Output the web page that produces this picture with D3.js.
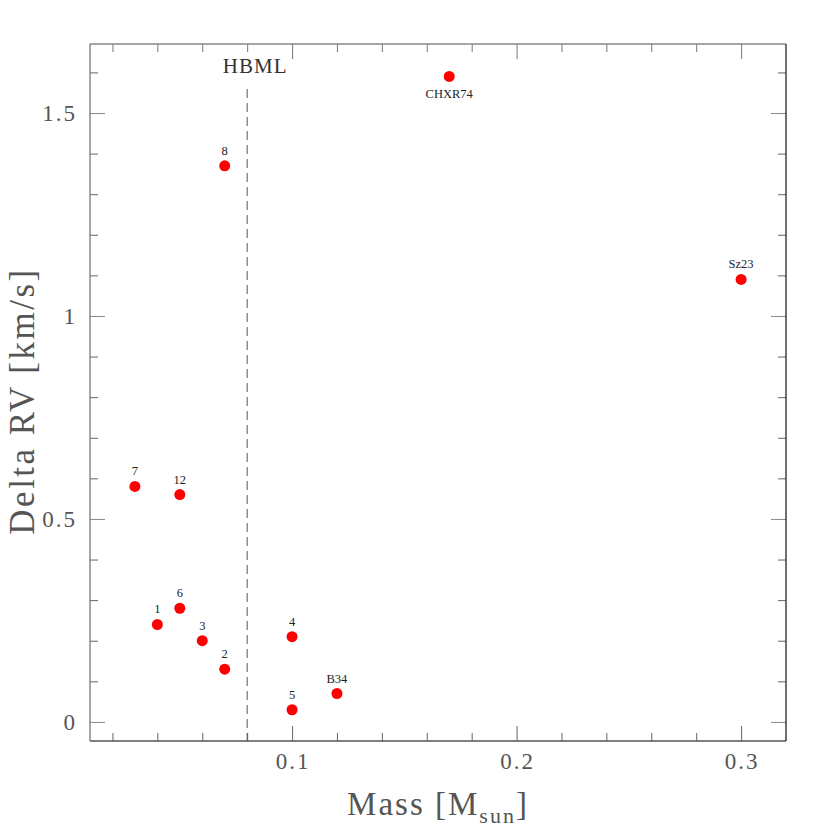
<!DOCTYPE html>
<html>
<head>
<meta charset="utf-8">
<script src="https://cdn.jsdelivr.net/npm/d3@7"></script>
<style>
  body { margin: 0; background: #fff; }
  text { font-family: "Liberation Serif", "DejaVu Serif", serif; }
</style>
</head>
<body>
<svg id="chart" width="830" height="830"></svg>
<script>
// objects, masses [Msun] and Delta RV [km/s]
var names = ["7", "12", "1", "6", "3", "2", "8", "4", "5", "B34", "CHXR74", "Sz23"];
var mass  = [0.03, 0.05, 0.04, 0.05, 0.06, 0.07, 0.07, 0.10, 0.10, 0.12, 0.17, 0.30];
var dRV   = [0.58, 0.56, 0.24, 0.28, 0.20, 0.13, 1.37, 0.21, 0.03, 0.07, 1.59, 1.09];
var labelBelow = ["CHXR74"];

var xTicks = [0.1, 0.2, 0.3];
var yTicks = [0, 0.5, 1, 1.5];
var hbml = 0.08;

var svg = d3.select("#chart");
var pLeft = 90, pRight = 786, pTop = 44, pBottom = 741;

var x = d3.scaleLinear().domain([0.01, 0.32]).range([pLeft, pRight]);
var y = d3.scaleLinear().domain([-0.047, 1.67]).range([pBottom, pTop]);

var minorX = d3.range(0.02, 0.32, 0.02).filter(function(d) {
  return xTicks.every(function(t) { return Math.abs(t - d) > 1e-6; });
});
var minorY = d3.range(0, 1.67, 0.1).filter(function(d) {
  return yTicks.every(function(t) { return Math.abs(t - d) > 1e-6; });
});

// ticks, inward on all four sides
function ticks(g, axisFn, scale, vals, size, color) {
  g.call(axisFn(scale).tickValues(vals).tickSize(size).tickFormat(""));
  g.select(".domain").remove();
  g.selectAll("line").attr("stroke", color);
}
var bx = svg.append("g").attr("transform", "translate(0," + pBottom + ")");
ticks(bx.append("g"), d3.axisTop, x, xTicks, 15, "#666");
ticks(bx.append("g"), d3.axisTop, x, minorX, 8, "#666");
var tx = svg.append("g").attr("transform", "translate(0," + pTop + ")");
ticks(tx.append("g"), d3.axisBottom, x, xTicks, 15, "#777");
ticks(tx.append("g"), d3.axisBottom, x, minorX, 8, "#777");
var ly = svg.append("g").attr("transform", "translate(" + pLeft + ",0)");
ticks(ly.append("g"), d3.axisRight, y, yTicks, 15, "#888");
ticks(ly.append("g"), d3.axisRight, y, minorY, 8, "#666");
var ry = svg.append("g").attr("transform", "translate(" + pRight + ",0)");
ticks(ry.append("g"), d3.axisLeft, y, yTicks, 15, "#888");
ticks(ry.append("g"), d3.axisLeft, y, minorY, 8, "#666");

// frame
svg.append("line").attr("x1", pLeft).attr("x2", pRight).attr("y1", pTop).attr("y2", pTop)
  .attr("stroke", "#888").attr("stroke-width", 1.3);
svg.append("line").attr("x1", pLeft).attr("x2", pRight).attr("y1", pBottom).attr("y2", pBottom)
  .attr("stroke", "#555").attr("stroke-width", 1.3);
svg.append("line").attr("x1", pLeft).attr("x2", pLeft).attr("y1", pTop).attr("y2", pBottom)
  .attr("stroke", "#777").attr("stroke-width", 1.3);
svg.append("line").attr("x1", pRight).attr("x2", pRight).attr("y1", pTop).attr("y2", pBottom)
  .attr("stroke", "#222").attr("stroke-width", 1.3);

// tick labels
svg.selectAll(".xl").data(xTicks).enter().append("text")
  .attr("x", function(d) { return x(d) + 1; })
  .attr("y", 769)
  .attr("text-anchor", "middle")
  .attr("font-size", 23).attr("letter-spacing", 2).attr("fill", "#555")
  .text(function(d) { return d; });
svg.selectAll(".yl").data(yTicks).enter().append("text")
  .attr("x", 77)
  .attr("y", function(d) { return y(d) + 8; })
  .attr("text-anchor", "end")
  .attr("font-size", 23).attr("letter-spacing", 2).attr("fill", "#555")
  .text(function(d) { return d; });

// axis titles
var xt = svg.append("text")
  .attr("x", 438).attr("y", 815)
  .attr("text-anchor", "middle")
  .attr("font-size", 33).attr("letter-spacing", 2).attr("fill", "#555");
xt.append("tspan").text("Mass [M");
xt.append("tspan").attr("font-size", 22).attr("dy", 8).text("sun");
xt.append("tspan").attr("dy", -8).text("]");

svg.append("text")
  .attr("transform", "translate(34,401) rotate(-90)")
  .attr("text-anchor", "middle")
  .attr("font-size", 35).attr("letter-spacing", 2.5).attr("fill", "#555")
  .text("Delta RV [km/s]");

// hydrogen burning mass limit
svg.append("line")
  .attr("x1", x(hbml)).attr("x2", x(hbml))
  .attr("y1", pTop + 45).attr("y2", pBottom)
  .attr("stroke", "#555").attr("stroke-dasharray", "9,5");
svg.append("text")
  .attr("x", x(hbml) + 8).attr("y", 73)
  .attr("text-anchor", "middle")
  .attr("font-size", 21).attr("letter-spacing", 1).attr("fill", "#333")
  .text("HBML");

// points
var pts = names.map(function(n, i) { return { name: n, m: mass[i], v: dRV[i] }; });

svg.selectAll("circle").data(pts).enter().append("circle")
  .attr("cx", function(d) { return x(d.m); })
  .attr("cy", function(d) { return y(d.v); })
  .attr("r", 5.5)
  .attr("fill", "#ff0000");

svg.selectAll(".pl").data(pts).enter().append("text")
  .attr("x", function(d) { return x(d.m); })
  .attr("y", function(d) {
    return labelBelow.indexOf(d.name) >= 0 ? y(d.v) + 22 : y(d.v) - 11; })
  .attr("text-anchor", "middle")
  .attr("font-size", 12.5).attr("fill", "#222")
  .text(function(d) { return d.name; });
</script>
</body>
</html>
